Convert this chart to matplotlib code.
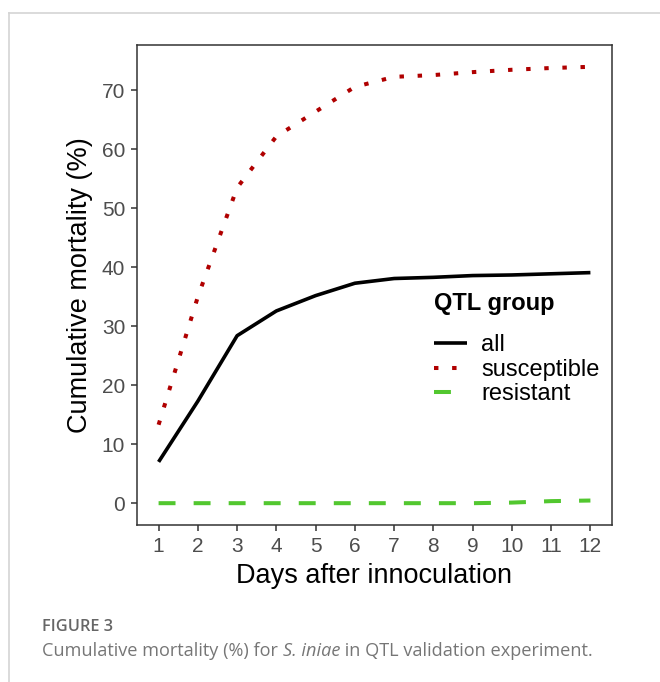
import matplotlib.pyplot as plt
from matplotlib.lines import Line2D

plt.rcParams['font.family'] = ['Liberation Sans', 'DejaVu Sans']

# values
days = [1, 2, 3, 4, 5, 6, 7, 8, 9, 10, 11, 12]
mort_all = [7.0, 17.3, 28.4, 32.6, 35.2, 37.3, 38.1, 38.3, 38.6, 38.7, 38.9, 39.1]
mort_susceptible = [13.3, 35.0, 53.5, 62.2, 66.4, 70.6, 72.3, 72.6, 73.1, 73.5, 73.8, 74.0]
mort_resistant = [0, 0, 0, 0, 0, 0, 0, 0, 0, 0.1, 0.35, 0.45]
group_labels = ['all', 'susceptible', 'resistant']

fig = plt.figure(figsize=(6.6, 6.82), dpi=100)

# page frame lines (top and left)
fig.add_artist(Line2D([9 / 660, 1], [1 - 13 / 682, 1 - 13 / 682], color='#d4d4d4', lw=1.2))
fig.add_artist(Line2D([9 / 660, 9 / 660], [0, 1 - 13 / 682], color='#d4d4d4', lw=1.2))

ax = fig.add_axes([137 / 660, 1 - 525 / 682, 475 / 660, 480 / 682])

ax.plot(days, mort_all, color='black', lw=2.6, solid_capstyle='butt', label=group_labels[0])
ax.plot(days, mort_susceptible, color='#b00000', lw=2.9, dashes=(1.1, 3.4),
        dash_capstyle='butt', label=group_labels[1])
ax.plot(days, mort_resistant, color='#52c72f', lw=2.9, dashes=(4.2, 4.5),
        dash_capstyle='butt', label=group_labels[2])

ax.set_xlim(0.45, 12.55)
ax.set_ylim(-3.7, 77.7)
ax.set_xticks(days)
ax.set_yticks([0, 10, 20, 30, 40, 50, 60, 70])

for s in ax.spines.values():
    s.set_color('#333333')
    s.set_linewidth(1.1)
ax.tick_params(direction='out', length=4.5, width=1.1, color='#333333',
               labelsize=15, labelcolor='#4d4d4d', pad=4)

ax.set_xlabel('Days after innoculation', fontsize=19.5, labelpad=5)
ax.set_ylabel('Cumulative mortality (%)', fontsize=19.5, labelpad=6)

leg = ax.legend(title='QTL group', loc='upper left', bbox_to_anchor=(0.6, 0.51),
                frameon=False, fontsize=17, handlelength=1.4, handletextpad=0.62,
                labelspacing=0.1, borderpad=0, alignment='left',
                title_fontproperties={'weight': 'bold', 'size': 17})
leg._legend_box.sep = 14

fig.text(42 / 660, 1 - 627 / 682, 'FIGURE 3', fontsize=11.8, color='#666666',
         family='Open Sans', weight='semibold', va='center')

# caption with italic species name, pieces placed side by side
cap_y = 1 - 651 / 682
cap_parts = [('Cumulative mortality (%) for ', 'normal'), ('S. iniae', 'italic'),
             (' in QTL validation experiment.', 'normal')]
r = fig.canvas.get_renderer()
x = 42 / 660
for txt, style in cap_parts:
    t = fig.text(x, cap_y, txt, fontsize=13.1, color='#767676', family='Open Sans',
                 style=style, va='center')
    x += t.get_window_extent(renderer=r).width / fig.bbox.width

fig.savefig('out.png', dpi=100)
